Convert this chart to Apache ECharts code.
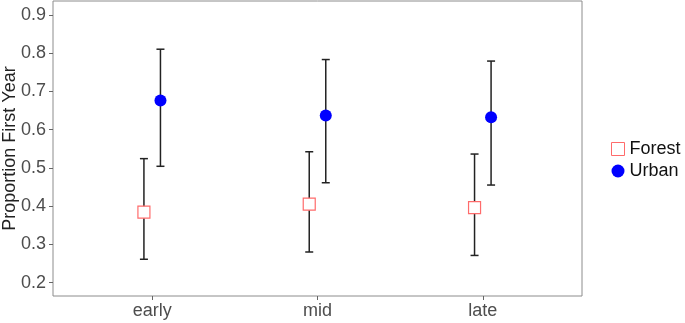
<!DOCTYPE html>
<html><head><meta charset="utf-8">
<script src="https://cdn.jsdelivr.net/npm/echarts@6/dist/echarts.min.js"></script>
<style>html,body{margin:0;padding:0;background:#fff}#c{width:685px;height:323px}</style>
</head><body><div id="c"></div>
<script>
var categories = ['early', 'mid', 'late'];
var forestMean  = [0.384, 0.405, 0.396];
var forestLower = [0.261, 0.280, 0.271];
var forestUpper = [0.524, 0.542, 0.536];
var urbanMean   = [0.676, 0.637, 0.632];
var urbanLower  = [0.504, 0.461, 0.455];
var urbanUpper  = [0.810, 0.783, 0.779];
var yTicks = [0.2, 0.3, 0.4, 0.5, 0.6, 0.7, 0.8, 0.9];
var dodge = 0.05;

function errData(lower, upper, off) {
  return categories.map(function (c, i) { return [i + off, lower[i], upper[i]]; });
}
function ptData(mean, off) {
  return categories.map(function (c, i) { return [i + off, mean[i]]; });
}
function renderErr(params, api) {
  var x = api.value(0);
  var lo = api.coord([x, api.value(1)]);
  var hi = api.coord([x, api.value(2)]);
  var hw = 4;
  var st = { stroke: '#222', lineWidth: 1.5 };
  return { type: 'group', children: [
    { type: 'line', shape: { x1: lo[0], y1: lo[1], x2: hi[0], y2: hi[1] }, style: st },
    { type: 'line', shape: { x1: lo[0] - hw, y1: lo[1], x2: lo[0] + hw, y2: lo[1] }, style: st },
    { type: 'line', shape: { x1: hi[0] - hw, y1: hi[1], x2: hi[0] + hw, y2: hi[1] }, style: st }
  ]};
}
var font = 'Liberation Sans, Arial, sans-serif';
var chart = echarts.init(document.getElementById('c'));
chart.setOption({
  animation: false,
  grid: { left: 53, right: 103, top: 1, bottom: 27, show: true, borderColor: '#8c8c8c', borderWidth: 1,
          containLabel: false, outerBoundsMode: 'none' },
  xAxis: {
    type: 'value', min: -0.6, max: 2.6,
    splitLine: { show: false },
    axisLine: { show: false, onZero: false },
    axisTick: { show: true, length: 4, lineStyle: { color: '#666' }, customValues: [0, 1, 2] },
    axisLabel: { color: '#4d4d4d', fontSize: 18, fontFamily: font, margin: 6,
      customValues: [0, 1, 2],
      formatter: function (v) { return categories[Math.round(v)]; } }
  },
  yAxis: {
    type: 'value', min: 0.165, max: 0.936,
    name: 'Proportion First Year', nameLocation: 'middle', nameGap: 34, nameMoveOverlap: false,
    nameTextStyle: { color: '#222', fontSize: 18, fontFamily: font },
    splitLine: { show: false },
    axisLine: { show: false, onZero: false },
    axisTick: { show: true, length: 4, lineStyle: { color: '#666' }, customValues: yTicks },
    axisLabel: { color: '#4d4d4d', fontSize: 18, fontFamily: font, margin: 7,
      customValues: yTicks,
      formatter: function (v) { return v.toFixed(1); } }
  },
  legend: {
    orient: 'vertical', left: 606, top: 135, itemGap: 4, itemWidth: 13, itemHeight: 13,
    textStyle: { color: '#111', fontSize: 18, fontFamily: font },
    data: [
      { name: 'Forest', icon: 'rect', itemStyle: { color: '#fff', borderColor: '#ff6b6b', borderWidth: 1 } },
      { name: 'Urban', icon: 'circle', itemStyle: { color: '#0000ff' } }
    ]
  },
  series: [
    { type: 'custom', name: 'ForestErr', renderItem: renderErr, data: errData(forestLower, forestUpper, -dodge), encode: { x: 0, y: [1, 2] }, z: 2 },
    { type: 'custom', name: 'UrbanErr', renderItem: renderErr, data: errData(urbanLower, urbanUpper, dodge), encode: { x: 0, y: [1, 2] }, z: 2 },
    { type: 'scatter', name: 'Forest', symbol: 'rect', symbolSize: 12, data: ptData(forestMean, -dodge),
      itemStyle: { color: '#fff', borderColor: '#ff6b6b', borderWidth: 1.2, opacity: 1 }, z: 3 },
    { type: 'scatter', name: 'Urban', symbol: 'circle', symbolSize: 12, data: ptData(urbanMean, dodge),
      itemStyle: { color: '#0000ff', opacity: 1 }, z: 3 }
  ]
});
</script></body></html>
